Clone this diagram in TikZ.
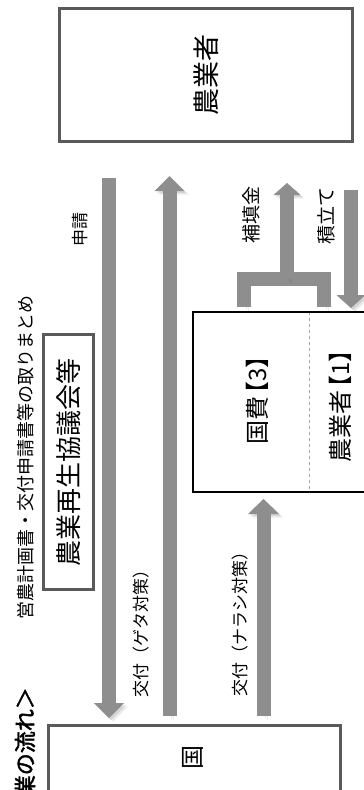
\documentclass[tikz,border=0pt]{standalone}
\usepackage{fontspec}
\setmainfont{Noto Sans CJK JP}[AutoFakeBold=2]
\usetikzlibrary{arrows.meta}
\definecolor{flowgray}{HTML}{8E8E8E}
\definecolor{boxgray}{HTML}{5A5A5A}
\tikzset{
  graybox/.style={draw=boxgray, line width=3pt, rotate=90, inner sep=0pt},
  flowbar/.style={draw=flowgray, line width=14pt,
    preaction={draw=black, opacity=.10, transform canvas={shift={(2pt,-2pt)}}},
    preaction={draw=black, opacity=.08, transform canvas={shift={(4pt,-3.5pt)}}}},
  flow/.style={flowbar, -{Triangle[width=#1,length=15pt,line width=0pt]}},
  flow/.default=30pt,
  lbl/.style={rotate=90, inner sep=0pt, font=\fontsize{17}{17}\selectfont},
}

\begin{document}
\begin{tikzpicture}[x=1pt,y=-1pt]
\useasboundingbox (0,0) rectangle (364,790);
% boxes
\node [graybox, minimum width=133, minimum height=293, font=\fontsize{27}{27}\selectfont] (farmer) at (206,75) {農業者};
\node [graybox, minimum width=255, minimum height=50, font=\fontsize{26}{26}\selectfont] (council) at (68.5,462) {農業再生協議会等};
\node [graybox, minimum width=72, minimum height=292] (kuni) at (194.5,761) {};
\node [rotate=90, font=\fontsize{24}{24}\selectfont] (kunitext) at (193,757) {国};
\node [draw, line width=1.2pt, rotate=90, inner sep=0pt, minimum width=180, minimum height=175] (fund) at (280.5,402) {};
\draw [dashed, gray!70, line width=0.8pt] (309,312) -- (309,492);
\draw [line width=2.8pt] (230,312) -- (347,312);
\draw [line width=2.8pt] (242,492) -- (295,492);
\node [rotate=90, font=\fontsize{24}{24}\selectfont] (kokuhi) at (257,399) {国費\kern-.4em【3】\kern-.4em};
\node [rotate=90, font=\fontsize{24}{24}\selectfont] (nogyosha) at (340,405) {農業者\kern-.4em【1】\kern-.4em};

% title and labels
\node [rotate=90, anchor=east, inner sep=0pt, font=\bfseries\fontsize{22}{22}\selectfont] (title) at (25,687) {業の流れ＞};
\node [lbl, font=\fontsize{18}{18}\selectfont] (matome) at (26,457) {営農計画書・交付申請書等の取りまとめ};
\node [lbl] (shinsei) at (80,229) {申請};
\node [lbl, font=\fontsize{19}{19}\selectfont] (hoten) at (251,215) {補填金};
\node [lbl, font=\fontsize{19}{19}\selectfont] (tsumitate) at (326,216) {積立て};
\node [lbl] (geta) at (141,629) {交付（ゲタ対策）};
\node [lbl] (narashi) at (240,620) {交付（ナラシ対策）};

% arrows
\coordinate (applTop) at (109,178);
\coordinate (applEnd) at (109,718);
\coordinate (getaBot) at (169.5,716);
\coordinate (getaTop) at (169.5,176);
\coordinate (naraBot) at (263.5,716);
\coordinate (naraTop) at (263.5,499);
\coordinate (legL) at (244,307);
\coordinate (legR) at (324,307);
\coordinate (bar) at (287,279);
\coordinate (hotenTop) at (287,183);
\coordinate (tsumiTop) at (351,190);
\coordinate (tsumiEnd) at (351,308);

\draw [flow] (applTop) -- (applEnd);
\draw [flow] (getaBot) -- (getaTop);
\draw [flow=31pt] (naraBot) -- (naraTop);
\draw [flowbar, line join=miter] (legL) -- (legL |- bar) -- (legR |- bar) -- (legR);
\draw [flowbar, -{Triangle[width=27pt,length=12pt,line width=0pt]}] (bar) -- (hotenTop);
\draw [flowbar, -{Triangle[width=29pt,length=13pt,line width=0pt]}] (tsumiTop) -- (tsumiEnd);
\end{tikzpicture}
\end{document}
